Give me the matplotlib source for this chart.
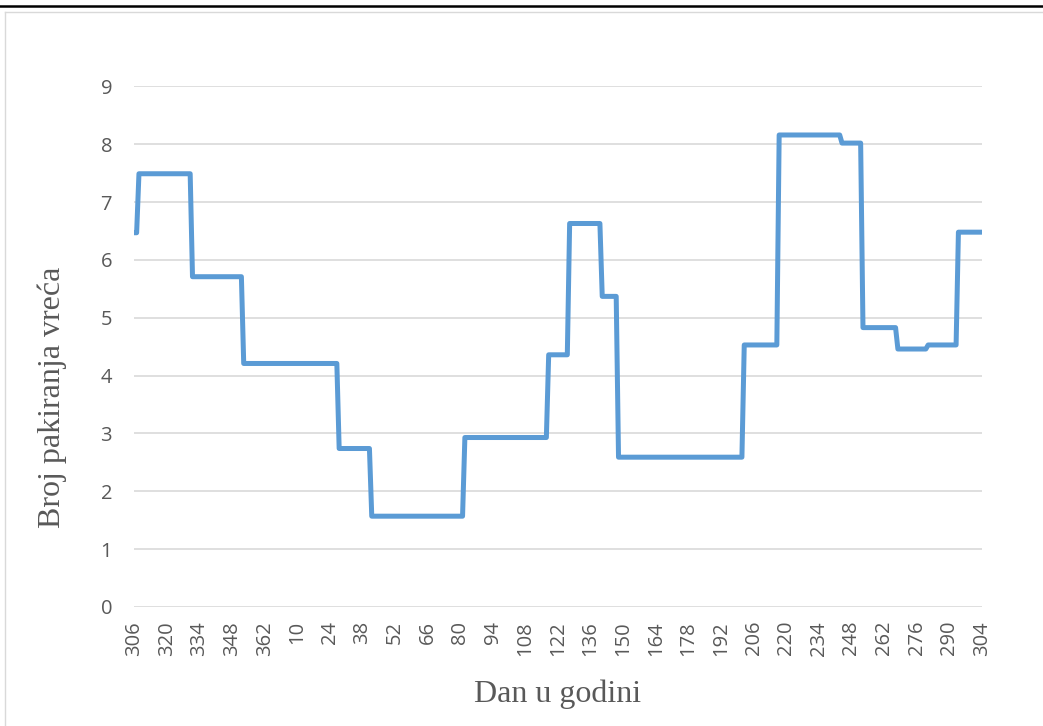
import numpy as np
import matplotlib.pyplot as plt
from matplotlib.lines import Line2D

# days of the year: 306..366, then 1..304
days = list(range(306, 367)) + list(range(1, 305))

# level changes: day the level starts, level value
change_days = [306, 308, 331, 353, 28, 42, 82, 118, 127, 141, 148, 202, 217, 244, 253, 268, 281, 294]
levels = [6.47, 7.49, 5.71, 4.21, 2.74, 1.57, 2.93, 4.36, 6.63, 5.37, 2.59, 4.53, 8.16, 8.02, 4.83, 4.46, 4.53, 6.48]

tick_labels = [str(d) for d in days[::14]]

# expand the step levels into one value per day
starts = [days.index(d) for d in change_days] + [len(days)]
values = np.repeat(levels, np.diff(starts))
x = np.arange(len(days))

fig = plt.figure(figsize=(10.43, 7.26), dpi=100)
ax = fig.add_axes([134.3 / 1043, 119 / 726, (981.7 - 134.3) / 1043, (607.3 - 86.7) / 726])

ax.plot(x, values, color="#5B9BD5", linewidth=3.6, solid_joinstyle="round", solid_capstyle="round", zorder=3)

ax.set_xlim(0, len(days) - 1)
ax.set_ylim(0, 9)
ax.set_yticks(range(0, 10))
ax.set_xticks(x[::14])
ax.set_xticklabels(tick_labels, rotation=90, fontsize=14.5, color="#595959", family="Open Sans")
for lab in ax.get_yticklabels():
    lab.set_fontsize(14.5)
    lab.set_color("#595959")
    lab.set_family("Open Sans")
ax.tick_params(length=0)
ax.tick_params(axis="y", pad=16)
ax.tick_params(axis="x", pad=10)
ax.grid(axis="y", color="#d9d9d9", linewidth=1.2)
ax.set_axisbelow(True)
for s in ax.spines.values():
    s.set_visible(False)

ax.set_xlabel("Dan u godini", family="Liberation Serif", fontsize=23, color="#595959", va="top")
ax.xaxis.set_label_coords(0.5, (607.3 - 680) / 520.6)
ax.set_ylabel("Broj pakiranja vreća", family="Liberation Serif", fontsize=23, color="#595959")
ax.yaxis.set_label_coords((67 - 134.3) / 847.4, (607.3 - 398) / 520.6)

# page decorations: black rule on top and light chart frame
fig.add_artist(Line2D([0, 1], [1 - 6 / 726, 1 - 6 / 726], color="black", linewidth=1.8))
fig.add_artist(Line2D([4.5 / 1043, 4.5 / 1043], [0, 1 - 11.5 / 726], color="#d9d9d9", linewidth=1))
fig.add_artist(Line2D([4.5 / 1043, 1], [1 - 11.5 / 726, 1 - 11.5 / 726], color="#d9d9d9", linewidth=1))

fig.savefig("out.png", dpi=100)
